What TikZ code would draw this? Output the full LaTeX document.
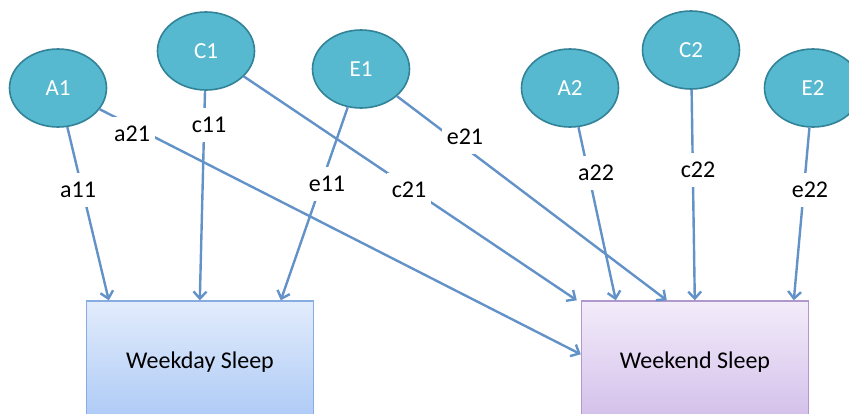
\documentclass[tikz,border=0pt]{standalone}
\usepackage{fontspec}
\setmainfont{Carlito}
\usepackage{tikz}
\usetikzlibrary{shapes.geometric,arrows.meta}
\definecolor{latent}{RGB}{86,185,207}
\definecolor{latentrim}{RGB}{50,130,152}
\definecolor{path}{RGB}{98,146,200}
\definecolor{dayTop}{RGB}{226,236,252}
\definecolor{dayBot}{RGB}{172,201,246}
\definecolor{dayRim}{RGB}{135,172,226}
\definecolor{endTop}{RGB}{243,236,250}
\definecolor{endBot}{RGB}{210,190,234}
\definecolor{endRim}{RGB}{176,152,204}
\tikzset{
  factor/.style={ellipse, draw=latentrim, line width=1.6pt, fill=latent,
    minimum width=97pt, minimum height=78pt, text=white,
    font=\fontsize{23}{26}\selectfont},
  sleepbox/.style={rectangle, line width=1.4pt, minimum width=227pt,
    minimum height=122pt, font=\fontsize{24}{28}\selectfont},
  coef/.style={fill=white, inner xsep=5pt, inner ysep=9pt,
    font=\fontsize{24}{28}\selectfont},
  load/.style={draw=path, line width=2.4pt,
    -{Straight Barb[length=7pt,width=13pt,line width=2.4pt]}}
}
\begin{document}
\begin{tikzpicture}[x=1pt,y=-1pt]
\useasboundingbox (0,0) rectangle (849,413);
\clip (0,0) rectangle (849,413);
% outcomes
\node[sleepbox, draw=dayRim, top color=dayTop, bottom color=dayBot] (wkday) at (200,362) {Weekday Sleep};
\node[sleepbox, draw=endRim, top color=endTop, bottom color=endBot] (wkend) at (695,362) {Weekend Sleep};
% latent factors
\node[factor] (A1) at (58,88) {A1};
\node[factor] (C1) at (206,51) {C1};
\node[factor] (E1) at (361,69) {E1};
\node[factor] (A2) at (570,88) {A2};
\node[factor] (C2) at (691,50) {C2};
\node[factor] (E2) at (813,88) {E2};
% paths
\draw[load] (A1) -- ([xshift=23pt]wkday.north west);
\draw[load] (C1) -- ([xshift=114pt]wkday.north west);
\draw[load] (E1) -- ([xshift=195pt]wkday.north west);
\draw[load] (A1) -- ([yshift=-54pt]wkend.north west);
\draw[load] (C1) -- ([xshift=-4pt]wkend.north west);
\draw[load] (E1) -- ([xshift=86pt]wkend.north west);
\draw[load] (A2) -- ([xshift=35pt]wkend.north west);
\draw[load] (C2) -- ([xshift=114pt]wkend.north west);
\draw[load] (E2) -- ([xshift=213pt]wkend.north west);
% coefficients
\node[coef] (a11) at (78,190) {a11};
\node[coef] (a21) at (132,134) {a21};
\node[coef] (c11) at (209,125) {c11};
\node[coef] (e11) at (327,184) {e11};
\node[coef] (c21) at (409,190) {c21};
\node[coef] (e21) at (465,137) {e21};
\node[coef] (a22) at (596,173) {a22};
\node[coef] (c22) at (698,170) {c22};
\node[coef] (e22) at (810,190) {e22};
\end{tikzpicture}
\end{document}
